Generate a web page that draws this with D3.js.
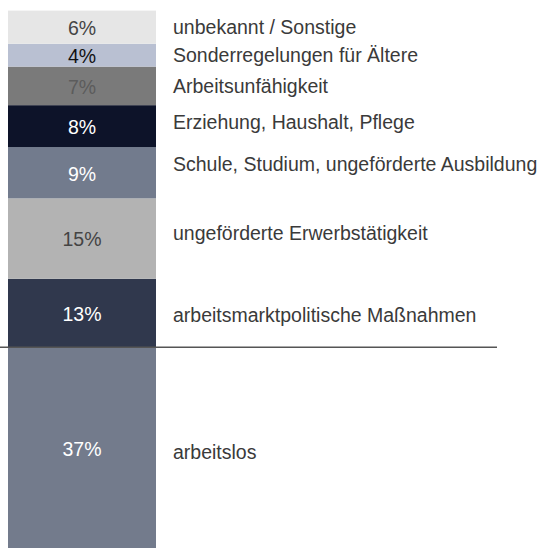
<!DOCTYPE html>
<html>
<head>
<meta charset="utf-8">
<script src="https://cdn.jsdelivr.net/npm/d3@7"></script>
<style>
  body { margin: 0; background: #fff; }
  svg { display: block; font-family: "Liberation Sans", Arial, sans-serif; }
</style>
</head>
<body>
<div id="chart"></div>
<script>
// categories, top to bottom
const categories = [
  "unbekannt / Sonstige",
  "Sonderregelungen für Ältere",
  "Arbeitsunfähigkeit",
  "Erziehung, Haushalt, Pflege",
  "Schule, Studium, ungeförderte Ausbildung",
  "ungeförderte Erwerbstätigkeit",
  "arbeitsmarktpolitische Maßnahmen",
  "arbeitslos",
];
// share in percent
const values = [6.1, 4.2, 7.1, 7.7, 9.45, 14.8, 12.6, 37];
// segment labels as printed in the chart
const valueLabels = ["6%", "4%", "7%", "8%", "9%", "15%", "13%", "37%"];
// the last category sits below the baseline
const belowBaseline = ["arbeitslos"];

const colors = ["#e6e6e6", "#b9c0d2", "#7a7a7a", "#0d1329", "#727b8d", "#b3b3b3", "#30384d", "#737b8c"];
const textColors = ["#444", "#111", "#5c5c5c", "#fff", "#fff", "#444", "#fff", "#fff"];

const width = 542, height = 548;
const bar = { x: 8, w: 148 };
const zeroY = 347.3, topY = 10.6;

// build stacked segments: above the baseline stack upward, below stack downward
let up = 0, down = 0;
const segs = categories.map((c, i) => ({ c, v: values[i], i })).reverse().map((d) => {
  if (belowBaseline.includes(d.c)) {
    d.y0 = down; d.y1 = down - d.v; down -= d.v;
  } else {
    d.y0 = up; d.y1 = up + d.v; up += d.v;
  }
  return d;
});

const y = d3.scaleLinear().domain([0, up]).range([zeroY, topY]);

const svg = d3.select("#chart").append("svg")
  .attr("width", width)
  .attr("height", height);

// segments
svg.selectAll("rect.seg")
  .data(segs)
  .enter()
  .append("rect")
  .attr("class", "seg")
  .attr("x", bar.x)
  .attr("width", bar.w)
  .attr("y", (d) => Math.min(y(d.y0), y(d.y1)))
  .attr("height", (d) => Math.abs(y(d.y0) - y(d.y1)))
  .style("fill", (d) => colors[d.i]);

// percentages inside the bar
svg.selectAll("text.pct")
  .data(segs)
  .enter()
  .append("text")
  .attr("class", "pct")
  .attr("x", bar.x + bar.w / 2)
  .attr("y", (d) => y((d.y0 + d.y1) / 2) + 1)
  .attr("dy", "0.35em")
  .attr("text-anchor", "middle")
  .style("font-size", "19.5px")
  .style("fill", (d) => textColors[d.i])
  .text((d) => valueLabels[d.i]);

// category labels to the right (small nudges as in the original layout)
const nudge = [0, 0, 0, -4, -9, -5, 2, 4];
svg.selectAll("text.cat")
  .data(segs)
  .enter()
  .append("text")
  .attr("class", "cat")
  .attr("x", 173)
  .attr("y", (d) => y((d.y0 + d.y1) / 2) + nudge[d.i])
  .attr("dy", "0.35em")
  .style("font-size", "19.5px")
  .style("fill", "#3a3a3a")
  .text((d) => d.c);

// baseline
svg.append("line")
  .attr("x1", 0)
  .attr("x2", 497)
  .attr("y1", y(0))
  .attr("y2", y(0))
  .style("stroke", "#555")
  .style("stroke-width", 1.5);
</script>
</body>
</html>
